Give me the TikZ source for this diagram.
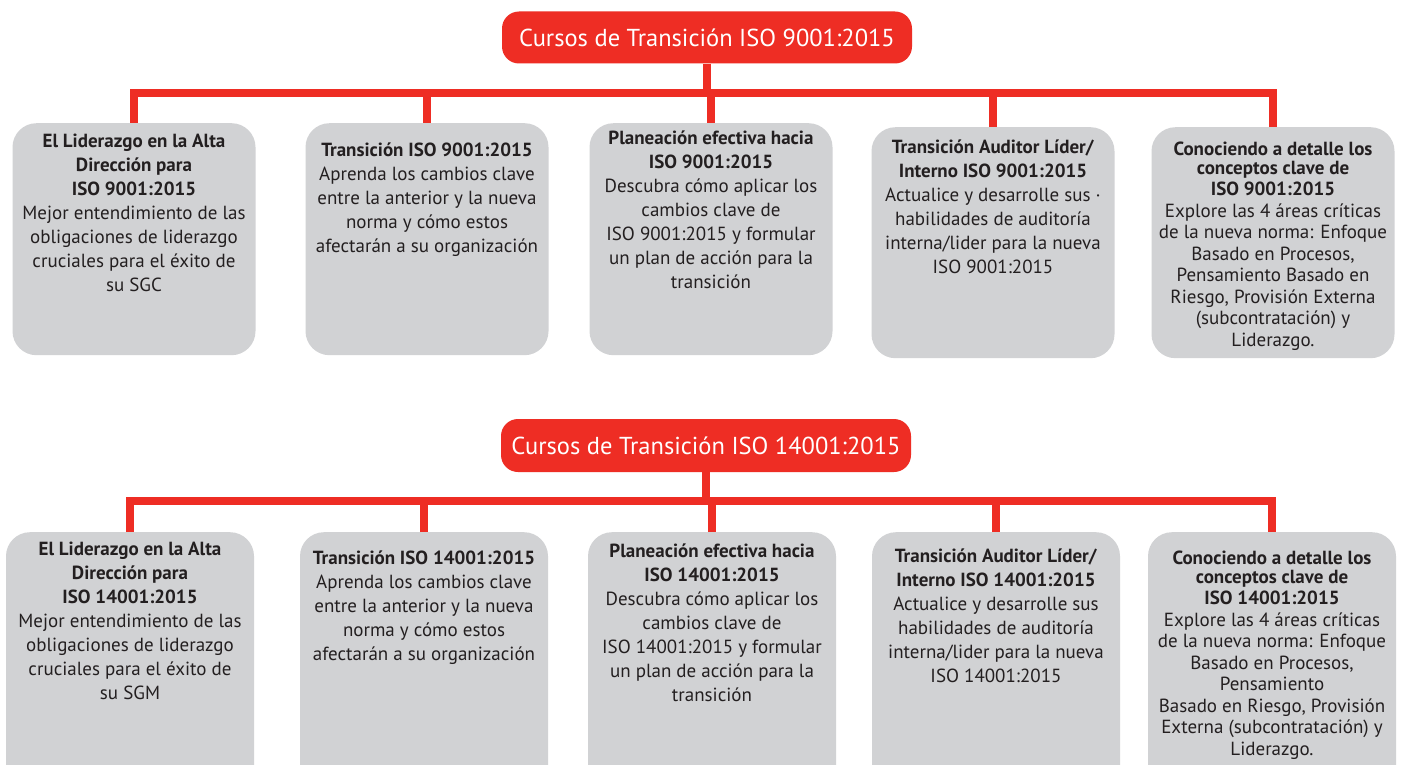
\documentclass[tikz,border=0pt]{standalone}
\usepackage{fontspec}
\setmainfont{PT Sans}
\definecolor{bsired}{HTML}{EE2D24}
\definecolor{boxgray}{HTML}{D1D2D4}
\definecolor{txt}{HTML}{231F20}
\begin{document}
\begin{tikzpicture}[x=1pt,y=-1pt,
  titlebox/.style={fill=bsired, rounded corners=17pt, minimum width=410pt, minimum height=52pt, inner sep=0pt, text=white, font=\fontsize{24.5}{30}\selectfont},
  coursebox/.style={fill=boxgray, rounded corners=24pt, minimum width=243pt, minimum height=232pt, inner sep=0pt, anchor=north},
  lowbox/.style={coursebox, minimum width=248pt, minimum height=270pt},
  coursetext/.style={anchor=north, align=center, inner sep=0pt, text=txt, font=\fontsize{19}{24}\selectfont},
  densetext/.style={coursetext, font=\fontsize{19}{21.5}\selectfont},
  conn/.style={draw=bsired, line width=8pt, line join=miter}
]
\clip (0,0) rectangle (1405,765);
\fill[white] (0,0) rectangle (1405,765);

% ---------- ISO 9001 ----------
\node[titlebox] (t1) at (707,37.5) {Cursos de Transición ISO 9001:2015};
\coordinate (barA) at (713,93);

\node[coursebox] (a1) at (134,123) {};
\node[coursebox] (a2) at (427,123) {};
\node[coursebox] (a3) at (711,123) {};
\node[coursebox, minimum height=231pt] (a4) at (993,127) {};
\node[coursebox, minimum height=231pt] (a5) at (1273,127) {};

\draw[conn] (t1.south) -- (t1.south |- barA);
\draw[conn] (a1.north) -- (a1.north |- barA) -- (a5.north |- barA) -- (a5.north);
\draw[conn] (a2.north) -- (a2.north |- barA);
\draw[conn] (a3.north) -- (a3.north |- barA);
\draw[conn] (a4.north) -- (a4.north |- barA);

\node[coursetext] (a1t) at (134,134) {\textbf{El Liderazgo en la Alta}\\ \textbf{Dirección para}\\ \textbf{ISO 9001:2015}\\ Mejor entendimiento de las\\ obligaciones de liderazgo\\ cruciales para el éxito de\\ su SGC};
\node[coursetext] (a2t) at (427,143) {\textbf{Transición ISO 9001:2015}\\ Aprenda los cambios clave\\ entre la anterior y la nueva\\ norma y cómo estos\\ afectarán a su organización};
\node[coursetext] (a3t) at (711,131) {\textbf{Planeación efectiva hacia}\\ \textbf{ISO 9001:2015}\\ Descubra cómo aplicar los\\ cambios clave de\\ ISO 9001:2015 y formular\\ un plan de acción para la\\ transición};
\node[coursetext] (a4t) at (993,140) {\textbf{Transición Auditor Líder/}\\ \textbf{Interno ISO 9001:2015}\\ Actualice y desarrolle sus ·\\ habilidades de auditoría\\ interna/lider para la nueva\\ ISO 9001:2015};
\node[densetext] (a5t) at (1273,142) {\textbf{Conociendo a detalle los}\\[-3pt] \textbf{conceptos clave de}\\[0pt] \textbf{ISO 9001:2015}\\ Explore las 4 áreas críticas\\ de la nueva norma: Enfoque\\ Basado en Procesos,\\ Pensamiento Basado en\\ Riesgo, Provisión Externa\\ (subcontratación) y\\ Liderazgo.};

% ---------- ISO 14001 ----------
\node[titlebox, minimum height=53pt] (t2) at (706,445.5) {Cursos de Transición ISO 14001:2015};
\coordinate (barB) at (713,501);

\node[lowbox] (b1) at (130,532) {};
\node[lowbox] (b2) at (424,532) {};
\node[lowbox] (b3) at (712,532) {};
\node[lowbox] (b4) at (996,532) {};
\node[lowbox] (b5) at (1272,532) {};

\draw[conn] (t2.south) -- (t2.south |- barB);
\draw[conn] (b1.north) -- (b1.north |- barB) -- (b5.north |- barB) -- (b5.north);
\draw[conn] (b2.north) -- (b2.north |- barB);
\draw[conn] (b3.north) -- (b3.north |- barB);
\draw[conn] (b4.north) -- (b4.north |- barB);

\node[coursetext] (b1t) at (130,542) {\textbf{El Liderazgo en la Alta}\\ \textbf{Dirección para}\\ \textbf{ISO 14001:2015}\\ Mejor entendimiento de las\\ obligaciones de liderazgo\\ cruciales para el éxito de\\ su SGM};
\node[coursetext] (b2t) at (424,551) {\textbf{Transición ISO 14001:2015}\\ Aprenda los cambios clave\\ entre la anterior y la nueva\\ norma y cómo estos\\ afectarán a su organización};
\node[coursetext] (b3t) at (712,544) {\textbf{Planeación efectiva hacia}\\ \textbf{ISO 14001:2015}\\ Descubra cómo aplicar los\\ cambios clave de\\ ISO 14001:2015 y formular\\ un plan de acción para la\\ transición};
\node[coursetext] (b4t) at (996,549) {\textbf{Transición Auditor Líder/}\\ \textbf{Interno ISO 14001:2015}\\ Actualice y desarrolle sus\\ habilidades de auditoría\\ interna/lider para la nueva\\ ISO 14001:2015};
\node[densetext] (b5t) at (1272,551) {\textbf{Conociendo a detalle los}\\[-3pt] \textbf{conceptos clave de}\\[0pt] \textbf{ISO 14001:2015}\\ Explore las 4 áreas críticas\\ de la nueva norma: Enfoque\\ Basado en Procesos,\\ Pensamiento\\ Basado en Riesgo, Provisión\\ Externa (subcontratación) y\\ Liderazgo.};
\end{tikzpicture}
\end{document}
